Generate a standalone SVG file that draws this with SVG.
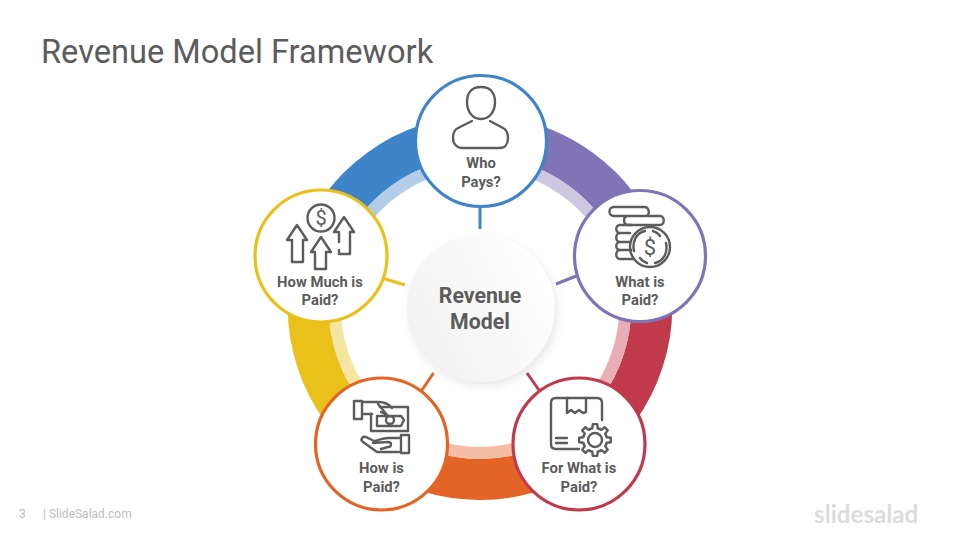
<svg xmlns="http://www.w3.org/2000/svg" width="960" height="540" viewBox="0 0 960 540">
<style>
text{font-family:Roboto,"Liberation Sans",sans-serif;fill:#5c5c5c}
.lb{font-size:14.8px;font-weight:700;text-anchor:middle}
.n{fill:#fff;stroke-width:3.2}
.ic{fill:none;stroke:#5c5c5c;stroke-width:2.4;stroke-linejoin:round;stroke-linecap:round}
.arc{fill:none}
.c{fill:none;stroke-width:3}
</style>
<defs>
<linearGradient id="g" x1="0" y1="0.8" x2="1" y2="0.3"><stop offset="0" stop-color="#f1f1f1"/><stop offset="1" stop-color="#ffffff"/></linearGradient>
<filter id="s" x="-20%" y="-20%" width="140%" height="140%"><feDropShadow dx="3" dy="4" stdDeviation="4" flood-color="#000" flood-opacity=".09"/></filter>
<path id="t" d="M11.09 -4.59L11.69 -2.7L15.84 -2.23V2.23L11.69 2.7L11.09 4.59"/>
</defs>
<rect width="960" height="540" fill="#fff"/>
<text x="41" y="63" font-size="32.6">Revenue Model Framework</text>
<g id="ring">
<g class="arc" stroke-width="41">
<path d="M480 136.5A171.5 171.5 0 0 0 316.9 255" stroke="#3f84c8"/>
<path d="M480 136.5A171.5 171.5 0 0 1 643.1 255" stroke="#8073b6"/>
<path d="M643.1 255A171.5 171.5 0 0 1 580.8 446.7" stroke="#c13a4c"/>
<path d="M580.8 446.7A171.5 171.5 0 0 1 379.2 446.7" stroke="#e36425"/>
<path d="M379.2 446.7A171.5 171.5 0 0 1 316.9 255" stroke="#e9c11a"/>
</g>
<g class="arc" stroke-width="12">
<path d="M480 163A145 145 0 0 0 342.1 263.2" stroke="#b3cde8"/>
<path d="M480 163A145 145 0 0 1 617.9 263.2" stroke="#cdc7e2"/>
<path d="M617.9 263.2A145 145 0 0 1 565.2 425.3" stroke="#e8adb5"/>
<path d="M565.2 425.3A145 145 0 0 1 394.8 425.3" stroke="#f5bda3"/>
<path d="M394.8 425.3A145 145 0 0 1 342.1 263.2" stroke="#f6e5a0"/>
</g>
</g>
<g id="connectors">
<path class="c" d="M480 205V229" stroke="#3f84c8"/>
<path class="c" d="M579 275L556 284" stroke="#8073b6"/>
<path class="c" d="M527 373L541 393" stroke="#c13a4c"/>
<path class="c" d="M433.5 373L420 393" stroke="#e36425"/>
<path class="c" d="M382 278L405 285" stroke="#e9c11a"/>
</g>
<g id="center">
<circle cx="480.5" cy="308" r="74" fill="url(#g)" filter="url(#s)"/>
<text x="480" y="303" font-size="21.3" font-weight="700" text-anchor="middle">Revenue</text>
<text x="480" y="329" font-size="21.3" font-weight="700" text-anchor="middle">Model</text>
</g>
<g id="who">
<circle class="n" cx="481" cy="141" r="65.5" stroke="#3f84c8"/>
<path class="ic" d="M481 87C470 87 467 95 467 102C467 111 472 119 481 119C490 119 495 111 495 102C495 95 492 87 481 87ZM472 121L458 128C454 130 453 134 453 138C453 144 457 148 462 148H500C505 148 508 144 508 138C508 134 507 130 503 128L490 121"/>
<text class="lb" x="481" y="168">Who</text>
<text class="lb" x="481" y="187">Pays?</text>
</g>
<g id="what">
<circle class="n" cx="640" cy="256" r="65.5" stroke="#8073b6"/>
<g class="ic">
<path d="M646 216H614C608 216 608 207 614 207H644C650 207 650 216 646 216M627 216C623 217 623 225 628 225H660C665 225 665 216 660 216H648"/>
<path d="M632 225H620C615 225 615 233 620 233H630M630 233H620C615 233 615 242 620 242H630M630 242H620C615 242 615 250 620 250H630M631 250H620C615 250 615 259 620 259H634"/>
<circle cx="650" cy="247" r="20"/>
<path d="M645 231C636 233 632 242 634 251M640 258C642 261 644 262 647 263M655 263C664 261 668 252 666 243M660 236C658 233 656 232 653 231"/>
</g>
<text x="650" y="255" font-size="22" text-anchor="middle">$</text>
<text class="lb" x="640" y="287">What is</text>
<text class="lb" x="640" y="305">Paid?</text>
</g>
<g id="forwhat">
<circle class="n" cx="579" cy="444" r="66" stroke="#c13a4c"/>
<g class="ic">
<path d="M602 420V403C602 400 600 398 597 398H556C553 398 551 400 551 403V444C551 447 553 449 556 449H579"/>
<path d="M567 398V413L571 410L575 413L579 410L583 413L586 412V398M556 438H567M556 443H567"/>
<g transform="translate(595 440)">
<use href="#t"/><use href="#t" transform="rotate(45)"/><use href="#t" transform="rotate(90)"/><use href="#t" transform="rotate(135)"/><use href="#t" transform="rotate(180)"/><use href="#t" transform="rotate(225)"/><use href="#t" transform="rotate(270)"/><use href="#t" transform="rotate(315)"/>
<circle r="7"/>
</g>
</g>
<text class="lb" x="579" y="473">For What is</text>
<text class="lb" x="579" y="492">Paid?</text>
</g>
<g id="how">
<circle class="n" cx="381.5" cy="444" r="66" stroke="#e36425"/>
<g class="ic">
<path d="M354 401H362V419H354ZM362 402H378C384 402 389 404 392 408M362 414H372"/>
<path d="M380 407H408V431H371V414M377 416H401L404 420L401 426H377Z"/>
<circle cx="390" cy="420" r="4"/>
<path d="M378 404L387 415M381 412L387 415"/>
<path d="M401 435H409V453H401ZM401 438H388C382 438 378 441 374 441L366 437C362 436 360 440 363 442L377 452H401M373 443L388 442C392 442 392 447 388 447L381 449"/>
</g>
<text class="lb" x="381.5" y="473">How is</text>
<text class="lb" x="381.5" y="492">Paid?</text>
</g>
<g id="howmuch">
<circle class="n" cx="321" cy="256" r="66" stroke="#e9c11a"/>
<g class="ic">
<circle cx="321" cy="218" r="13.5"/>
<path d="M297 225L287 240H292V262H303V240H307ZM321 237L311 252H315V269H326V252H331ZM339 242V232H334L344 217L354 232H350V254H339V250"/>
</g>
<text x="321" y="225" font-size="20" text-anchor="middle">$</text>
<text class="lb" x="320" y="287">How Much is</text>
<text class="lb" x="320" y="305">Paid?</text>
</g>
<g id="footer">
<text x="19" y="518" font-size="12" style="fill:#bdbdbd">3</text>
<text x="43" y="518" font-size="12" style="fill:#bdbdbd">| SlideSalad.com</text>
<text x="814" y="523" font-size="24.2" font-weight="700" style="font-family:Lato,sans-serif;fill:#dcdcdc">slidesalad</text>
</g>
</svg>
